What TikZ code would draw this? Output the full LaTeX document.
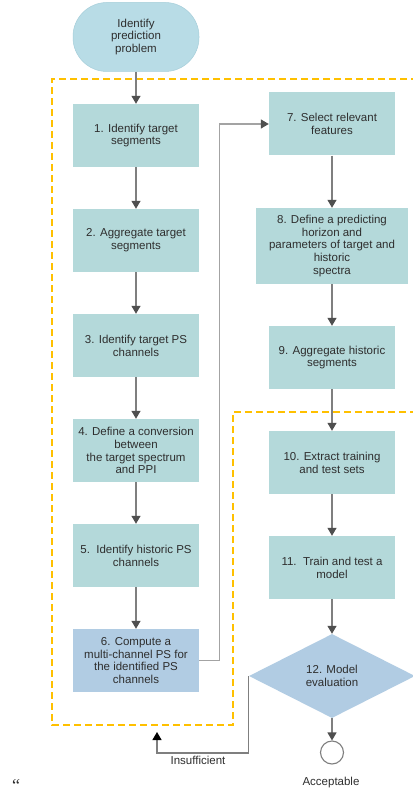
\documentclass[tikz,border=0pt]{standalone}
\usepackage{fontspec}
\setmainfont{Liberation Sans}
\newfontfamily\quotefont{Liberation Serif}
\usetikzlibrary{arrows.meta,shapes.geometric}

\definecolor{termfill}{HTML}{B8DCE6}
\definecolor{termline}{HTML}{A6CEDA}
\definecolor{stepfill}{HTML}{B4D9DA}
\definecolor{keyfill}{HTML}{B1CCE3}
\definecolor{txt}{HTML}{2E2E2E}
\definecolor{flow}{HTML}{7F7F7F}
\definecolor{jump}{HTML}{A3A3A3}
\definecolor{tipgray}{HTML}{4F4F4F}
\definecolor{amber}{HTML}{FFC000}

\tikzset{
  lbl/.style={font=\fontsize{11.5}{12.8}\selectfont, text=txt, align=center},
  stepbox/.style={lbl, rectangle, fill=stepfill, minimum width=126pt, minimum height=63pt, inner sep=1pt},
  widebox/.style={stepbox, minimum width=152pt, minimum height=76pt},
  keybox/.style={stepbox, fill=keyfill},
  termnode/.style={lbl, rectangle, rounded corners=34pt, fill=termfill, draw=termline, line width=0.5pt,
    minimum width=126pt, minimum height=69pt},
  decision/.style={lbl, diamond, fill=keyfill, minimum width=166pt, minimum height=84pt, inner sep=0pt},
  endnode/.style={circle, draw=flow, line width=1.1pt, fill=white, minimum size=23pt, inner sep=0pt},
  flowarrow/.style={draw=flow, line width=1.2pt, -{Triangle[width=9pt,length=8pt,color=tipgray]}},
  jumparrow/.style={draw=jump, line width=1.2pt, -{Triangle[width=9pt,length=8pt,color=tipgray]}},
  backarrow/.style={draw=flow, line width=1.2pt, -{Triangle[width=9pt,length=8pt,color=black]}},
  group/.style={draw=amber, line width=2pt, dash pattern=on 7pt off 4pt}
}

\begin{document}
\begin{tikzpicture}[x=1pt,y=-1pt]
  \useasboundingbox[fill=white] (0,0) rectangle (412,794);

  % dashed groupings of the two phases
  \draw[group] (418,79) -- (52,79) -- (52,725) -- (233,725) -- (233,412) -- (418,412);

  % start
  \node[termnode] (start) at (136,37) {Identify\\prediction\\problem};

  % left column
  \node[stepbox] (s1) at (136,135.5) {1. Identify target\\segments};
  \node[stepbox] (s2) at (136,240.5) {2. Aggregate target\\segments};
  \node[stepbox] (s3) at (136,345.5) {3. Identify target PS\\channels};
  \node[stepbox] (s4) at (136,450.5) {4. Define a conversion\\between\\the target spectrum\\and PPI};
  \node[stepbox] (s5) at (136,555.5) {5.\ \ Identify historic PS\\channels};
  \node[keybox]  (s6) at (136,660.5) {6. Compute a\\multi-channel PS for\\the identified PS\\channels};

  % right column
  \node[stepbox] (s7) at (332,124) {7. Select relevant\\features};
  \node[widebox] (s8) at (332,246) {8. Define a predicting\\horizon and\\parameters of target and\\historic\\spectra};
  \node[stepbox] (s9) at (332,357.5) {9. Aggregate historic\\segments};
  \node[stepbox] (s10) at (332,462.5) {10. Extract training\\and test sets};
  \node[stepbox] (s11) at (332,567.5) {11.\ \ Train and test a\\model};
  \node[decision] (s12) at (332,676) {12. Model\\evaluation};
  \node[endnode] (done) at (332,752.5) {};

  % outcome labels
  \node[lbl] (acc) at (331,783) {Acceptable};
  \node[lbl] (ins) at (198,760) {Insufficient};
  \coordinate (back) at (157,732);
  \node[font=\quotefont\fontsize{18}{18}\selectfont, text=txt, anchor=north, inner sep=0pt,
        text height=14pt, text depth=0pt] (mark) at (16,777) {“};

  % main flow
  \draw[flowarrow] (start) -- (s1);
  \draw[flowarrow] (s1) -- (s2);
  \draw[flowarrow] (s2) -- (s3);
  \draw[flowarrow] (s3) -- (s4);
  \draw[flowarrow] (s4) -- (s5);
  \draw[flowarrow] (s5) -- (s6);
  \draw[jumparrow] (s6.east) -- ++(20,0) |- (s7.west);
  \draw[flowarrow] (s7) -- (s8);
  \draw[flowarrow] (s8) -- (s9);
  \draw[flowarrow] (s9) -- (s10);
  \draw[flowarrow] (s10) -- (s11);
  \draw[flowarrow] (s11) -- (s12);
  \draw[flowarrow] (s12) -- (done);
  \draw[backarrow] (s12.west) -- (s12.west |- 0,753) -| (back);
\end{tikzpicture}
\end{document}
